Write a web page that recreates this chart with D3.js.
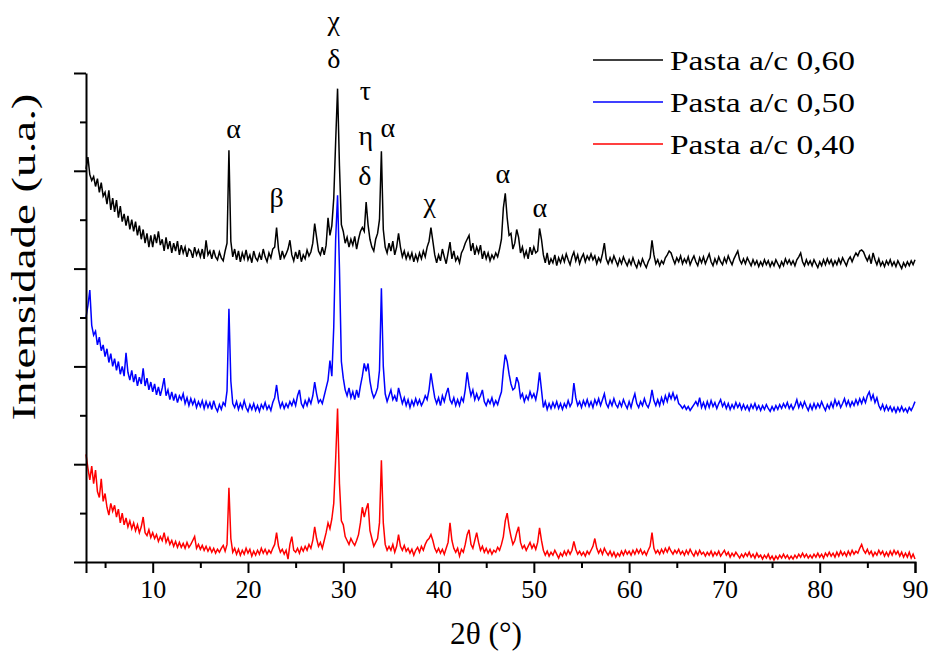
<!DOCTYPE html>
<html>
<head>
<meta charset="utf-8">
<script src="https://cdn.jsdelivr.net/npm/d3@7"></script>
<style>
  html, body { margin: 0; padding: 0; background: #ffffff; }
  svg { display: block; }
</style>
</head>
<body>
<svg id="chart" width="933" height="652"></svg>
<script>
// XRD scan grid (2θ, degrees)
const SCAN_START = 3;
const SCAN_STEP = 0.2;

// Stacked diffractograms, intensity in arbitrary units (offset included), one row per degree
const pasta060 = [
  402,414,396,390,394, 384,392,378,388,374, 378,366,380,360,372, 358,370,352,364,348,
  356,344,354,340,350, 338,348,334,344,330, 340,326,336,322,334, 322,335,326,338,324,
  330,318,332,320,328, 316,326,318,328,314, 324,316,322,312,320, 318,311,322,314,319,
  312,320,310,329,314, 318,310,319,312,309, 317,311,308,318,326, 421,328,312,320,309,
  318,307,316,310,319, 309,314,306,318,311, 308,315,309,320,312, 307,316,311,320,322,
  342,320,309,318,311, 315,320,329,314,308, 317,310,319,307,314, 310,319,313,317,326,
  346,332,318,314,322, 314,324,352,334,344, 372,430,484,405,345, 338,326,332,322,330,
  324,333,320,330,338, 342,338,368,345,330, 322,318,330,336,350, 420,340,322,316,326,
  318,328,314,322,336, 322,312,318,310,316, 310,316,307,314,308, 316,310,318,312,322,
  328,342,328,314,306, 314,308,320,312,305, 316,327,310,318,308, 312,306,316,320,326,
  330,334,318,326,314, 322,316,324,310,318, 310,316,308,314,310, 316,312,320,330,362,
  377,352,334,336,320, 326,340,332,316,322, 312,318,310,322,314, 322,316,318,341,330,
  314,306,316,304,310, 306,314,303,311,306, 313,307,315,309,304, 312,317,308,314,305,
  311,315,307,313,309, 315,309,313,305,311, 307,315,326,310,305, 311,306,313,308,303,
  310,305,312,307,303, 309,304,311,305,301, 308,303,310,305,301, 307,311,329,314,305,
  309,303,308,305,311, 314,318,316,310,305, 311,307,313,305,310, 306,312,304,309,313,
  307,303,311,306,312, 305,310,315,307,303, 310,305,312,307,304, 311,306,313,308,304,
  310,314,318,309,305, 310,305,311,307,303, 309,304,308,302,307, 303,309,304,308,302,
  307,303,309,305,301, 307,303,310,305,309, 304,308,303,309,312, 316,307,303,309,304,
  308,303,309,305,301, 307,303,309,304,310, 305,309,303,308,304, 310,305,311,307,303,
  309,312,307,312,316, 313,318,319,317,312, 308,313,305,316,309, 304,310,303,307,302,
  308,304,309,303,307, 302,308,304,300,306, 302,307,303,308,304,
  309
];

const pasta050 = [
  250,262,278,242,232, 236,222,230,216,222, 210,218,204,213,200, 208,196,205,192,200,
  190,214,194,186,196, 184,192,180,189,182, 198,180,188,176,184, 174,182,171,179,170,
  178,188,170,176,166, 174,165,172,163,170, 166,172,162,168,160, 167,161,166,158,164,
  159,165,157,164,158, 163,156,165,158,154, 161,156,163,160,175, 259,185,162,158,164,
  156,162,157,165,158, 154,161,156,162,155, 160,154,161,157,163, 156,160,155,163,168,
  181,166,158,163,157, 162,158,164,160,166, 160,170,176,162,158, 165,160,167,162,170,
  184,172,163,166,162, 170,178,186,206,190, 240,330,375,300,205, 188,176,170,178,168,
  174,166,176,168,180, 190,203,195,203,185, 174,168,172,178,196, 280,200,172,164,170,
  176,166,170,164,178, 170,162,168,160,166, 158,165,160,167,161, 166,160,164,170,166,
  176,193,180,168,162, 168,160,170,164,172, 178,166,162,168,160, 166,160,168,164,176,
  194,180,170,176,166, 172,166,170,176,164, 160,166,162,168,160, 165,161,168,174,196,
  212,205,192,182,176, 178,189,183,168,172, 164,170,166,174,168, 172,166,176,194,176,
  158,164,156,162,157, 163,158,164,157,162, 156,162,158,165,159, 163,183,168,160,164,
  158,165,160,166,159, 164,158,166,161,167, 160,166,172,162,158, 165,160,167,161,158,
  164,159,166,161,157, 164,158,166,172,162, 158,164,160,167,161, 158,164,176,165,160,
  166,160,168,162,170, 164,172,167,173,166, 170,162,160,157,160, 156,159,155,158,161,
  164,160,168,158,163, 157,164,158,165,159, 163,157,162,166,159, 163,157,162,156,161,
  157,163,158,162,156, 161,156,160,155,161, 157,162,156,160,155, 160,156,161,157,154,
  159,155,160,156,161, 157,162,158,163,157, 161,156,160,166,158, 163,158,164,159,155,
  161,156,162,157,162, 158,164,159,155,161, 157,163,158,166,160, 164,158,162,167,160,
  165,159,164,160,166, 161,167,162,168,163, 170,174,166,171,163, 168,160,156,161,155,
  160,155,159,154,158, 153,158,154,159,154, 157,153,158,155,159,
  164
];

const pasta040 = [
  110,96,84,98,80, 94,72,66,85,62, 70,56,48,60,52, 58,46,54,40,50,
  38,45,36,42,34, 40,32,38,30,36, 46,30,27,33,25, 30,24,28,21,26,
  22,30,20,25,18, 22,16,21,15,20, 15,19,14,20,15, 18,22,26,14,18,
  13,17,12,16,11, 15,10,14,9,13, 10,14,17,11,18, 76,24,10,14,8,
  13,7,12,8,14, 9,13,6,11,7, 12,8,14,9,13, 8,12,9,14,18,
  30,16,10,13,8, 12,3,18,26,12, 10,14,9,15,11, 16,12,18,14,22,
  36,24,16,20,14, 22,30,40,34,44, 60,105,157,80,42, 38,26,22,18,24,
  20,17,22,28,40, 56,46,54,60,32, 24,16,20,24,40, 104,40,18,12,16,
  12,18,10,16,28, 16,12,17,11,14, 9,13,7,12,15, 10,16,12,18,22,
  24,28,22,14,10, 14,9,13,8,14, 20,40,22,14,10, 14,6,13,10,18,
  28,33,18,14,22, 30,20,12,16,10, 14,9,13,8,12, 10,15,12,18,26,
  42,50,36,26,18, 22,30,36,20,14, 17,12,16,20,14, 18,13,20,35,22,
  12,7,11,6,10, 7,12,8,4,9, 6,11,7,12,8, 12,21,13,8,11,
  7,10,6,11,8, 12,16,24,14,9, 13,8,14,10,7, 11,6,10,5,9,
  6,11,7,12,8, 11,7,12,8,13, 9,13,8,11,7, 12,16,30,14,9,
  12,8,13,9,14, 10,15,11,8,12, 9,13,8,11,7, 12,8,13,9,6,
  11,7,12,8,10, 6,10,7,11,6, 10,7,11,6,9, 12,7,10,5,9,
  6,10,7,4,8, 5,9,6,10,5, 8,4,9,5,7, 3,7,4,8,3,
  6,2,6,3,7, 4,8,4,7,3, 6,3,7,4,8, 5,9,5,8,4,
  7,4,8,5,9, 5,8,4,9,6, 10,6,9,5,10, 6,11,7,10,6,
  11,7,12,8,11, 9,14,18,12,9, 13,8,11,6,10, 7,12,8,11,6,
  10,6,11,7,12, 8,11,6,10,5, 9,5,10,4,8,
  3
];

const seriesNames = ["Pasta a/c 0,60", "Pasta a/c 0,50", "Pasta a/c 0,40"];
const seriesColors = ["#000000", "#0000ff", "#ff0000"];

const xTicks = [5, 10, 15, 20, 25, 30, 35, 40, 45, 50, 55, 60, 65, 70, 75, 80, 85, 90];
const yTicks = [0, 50, 100, 150, 200, 250, 300, 350, 400, 450, 500];

// Phase identification labels: symbol, 2θ position, intensity level of the text baseline
const phaseSymbols = ["α", "β", "χ", "δ", "τ", "η", "α", "δ", "χ", "α", "α"];
const phaseTheta   = [18.5, 23.0, 29.0, 29.0, 32.33, 32.36, 34.67, 32.26, 39.08, 46.75, 50.63];
const phaseLevel   = [434, 363, 544, 505, 472, 426, 435, 385, 358, 388, 353];

// Pick a Times-style face among the installed fonts
function pickFont(candidates, fallback) {
  const ctx = document.createElement("canvas").getContext("2d");
  const probe = "Intensidade Pasta 0123456789 αβχδ";
  for (const f of candidates) {
    for (const base of ["monospace", "sans-serif"]) {
      ctx.font = `40px ${base}`;
      const w0 = ctx.measureText(probe).width;
      ctx.font = `40px "${f}", ${base}`;
      const w1 = ctx.measureText(probe).width;
      if (Math.abs(w1 - w0) > 0.5) return f;
    }
  }
  return fallback;
}
const SERIF = pickFont(["Liberation Serif", "Times New Roman", "Tinos", "Times",
                        "Nimbus Roman", "Nimbus Roman No9 L", "FreeSerif", "DejaVu Serif"], "serif");
const FONT = `"${SERIF}", serif`;

const svg = d3.select("#chart");

const x = d3.scaleLinear().domain([SCAN_START, 90]).range([86, 915]);
const y = d3.scaleLinear().domain([0, 500]).range([562, 73]);

const allSeries = [pasta060, pasta050, pasta040];

const line = d3.line()
  .x((d, i) => x(SCAN_START + i * SCAN_STEP))
  .y(d => y(d));

// bottom trace first so upper traces are drawn over it
const order = [2, 1, 0];
svg.append("g").selectAll("path")
  .data(order)
  .join("path")
  .attr("d", k => line(allSeries[k]))
  .attr("fill", "none")
  .attr("stroke", k => seriesColors[k])
  .attr("stroke-width", 1.5)
  .attr("stroke-linejoin", "miter");

// Y axis: ticks only, alternating long/short
const yAxis = svg.append("g")
  .attr("transform", `translate(${x(SCAN_START)},0)`)
  .call(d3.axisLeft(y).tickValues(yTicks).tickFormat("").tickSizeOuter(0));
yAxis.select(".domain").attr("stroke-width", 2);
yAxis.selectAll(".tick line")
  .attr("stroke-width", 2)
  .attr("x2", d => (d % 100 === 0 ? -12 : -6));

// X axis
const xAxis = svg.append("g")
  .attr("transform", `translate(0,${y(0)})`)
  .call(d3.axisBottom(x).tickValues(xTicks)
    .tickFormat(d => (d % 10 === 0 ? d : ""))
    .tickSizeOuter(0).tickSize(11).tickPadding(0));
xAxis.select(".domain").attr("stroke-width", 2);
xAxis.selectAll(".tick line")
  .attr("stroke-width", 2)
  .attr("y2", d => (d % 10 === 0 ? 11 : 6));
xAxis.selectAll(".tick text")
  .attr("y", 36)
  .attr("dy", null)
  .attr("font-size", 26)
  .attr("fill", "#000");

// Axis titles
svg.append("text")
  .attr("x", 486).attr("y", 644)
  .attr("text-anchor", "middle")
  .attr("font-size", 31)
  .attr("textLength", 72)
  .attr("lengthAdjust", "spacingAndGlyphs")
  .text("2θ (°)");

svg.append("text")
  .attr("transform", "translate(35,257) rotate(-90)")
  .attr("text-anchor", "middle")
  .attr("font-size", 34)
  .attr("textLength", 327)
  .attr("lengthAdjust", "spacingAndGlyphs")
  .text("Intensidade (u.a.)");

// Phase labels
svg.append("g").selectAll("text")
  .data(phaseSymbols)
  .join("text")
  .attr("x", (d, i) => x(phaseTheta[i]))
  .attr("y", (d, i) => y(phaseLevel[i]))
  .attr("text-anchor", "middle")
  .attr("font-size", 28)
  .text(d => d);

// Legend
const legend = svg.append("g");
const legendY = [60, 102, 144];
seriesNames.forEach((name, i) => {
  legend.append("line")
    .attr("x1", 593).attr("x2", 663)
    .attr("y1", legendY[i]).attr("y2", legendY[i])
    .attr("stroke", seriesColors[i])
    .attr("stroke-width", 1.5);
  legend.append("text")
    .attr("x", 670).attr("y", legendY[i] + 10)
    .attr("font-size", 28)
    .attr("textLength", 185)
    .attr("lengthAdjust", "spacingAndGlyphs")
    .text(name);
});

svg.selectAll("text").style("font-family", FONT).style("fill", "#000");
</script>
</body>
</html>
